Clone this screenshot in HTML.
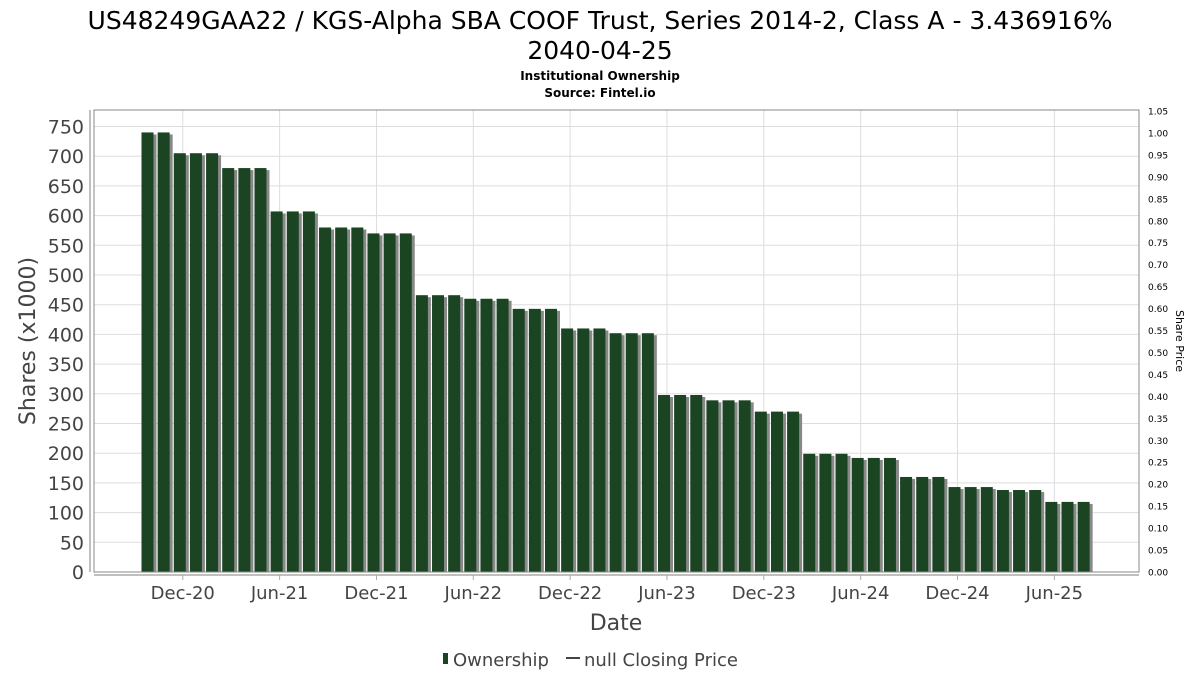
<!DOCTYPE html>
<html><head><meta charset="utf-8"><style>
body{margin:0;background:#fff;font-family:"DejaVu Sans","Liberation Sans",sans-serif;}
</style></head><body>
<svg id="chart" width="1200" height="675" xmlns="http://www.w3.org/2000/svg" font-family="DejaVu Sans, Liberation Sans, sans-serif">
<text x="600" y="29" text-anchor="middle" font-size="25" fill="#000">US48249GAA22 / KGS-Alpha SBA COOF Trust, Series 2014-2, Class A - 3.436916%</text>
<text x="600" y="59" text-anchor="middle" font-size="25" fill="#000">2040-04-25</text>
<text x="600" y="80" text-anchor="middle" font-size="12" font-weight="bold" fill="#000">Institutional Ownership</text>
<text x="600" y="97" text-anchor="middle" font-size="12" font-weight="bold" fill="#000">Source: Fintel.io</text>
<g id="grid"></g>
<g id="bars"></g>
<g id="axes"></g>
<text transform="translate(35,341) rotate(-90)" text-anchor="middle" font-size="22" fill="#444">Shares (x1000)</text>
<text transform="translate(1176,341) rotate(90)" text-anchor="middle" font-size="11" fill="#000">Share Price</text>
<text x="616" y="630" text-anchor="middle" font-size="22" fill="#444">Date</text>
<g>
<rect x="443" y="653" width="5" height="11" fill="#1a4422"/>
<text x="453" y="666" font-size="18" fill="#444">Ownership</text>
<line x1="566" y1="658" x2="580" y2="658" stroke="#444" stroke-width="2"/>
<text x="584" y="666" font-size="18" fill="#444">null Closing Price</text>
</g>
</svg>
<script>
const months=["Oct-20","Nov-20","Dec-20","Jan-21","Feb-21","Mar-21","Apr-21","May-21","Jun-21","Jul-21","Aug-21","Sep-21","Oct-21","Nov-21","Dec-21","Jan-22","Feb-22","Mar-22","Apr-22","May-22","Jun-22","Jul-22","Aug-22","Sep-22","Oct-22","Nov-22","Dec-22","Jan-23","Feb-23","Mar-23","Apr-23","May-23","Jun-23","Jul-23","Aug-23","Sep-23","Oct-23","Nov-23","Dec-23","Jan-24","Feb-24","Mar-24","Apr-24","May-24","Jun-24","Jul-24","Aug-24","Sep-24","Oct-24","Nov-24","Dec-24","Jan-25","Feb-25","Mar-25","Apr-25","May-25","Jun-25","Jul-25","Aug-25"];
const ownership=[740,740,705,705,705,680,680,680,607,607,607,580,580,580,570,570,570,466,466,466,460,460,460,443,443,443,410,410,410,402,402,402,298,298,298,289,289,289,270,270,270,199,199,199,192,192,192,160,160,160,143,143,143,138,138,138,118,118,118];
const xTickLabels=["Dec-20","Jun-21","Dec-21","Jun-22","Dec-22","Jun-23","Dec-23","Jun-24","Dec-24","Jun-25"];
const yTicks=[0,50,100,150,200,250,300,350,400,450,500,550,600,650,700,750];
const y2Ticks=[0,0.05,0.1,0.15,0.2,0.25,0.3,0.35,0.4,0.45,0.5,0.55,0.6,0.65,0.7,0.75,0.8,0.85,0.9,0.95,1.0,1.05];
const NS="http://www.w3.org/2000/svg";
const L=94,R=1139,T=110,B=572;
const y=v=>B-v*(445.5/750);
const y2=v=>B-v*(461/1.05);
const x=i=>150.5+i*16.14;
function mk(tag,attrs,parent){const e=document.createElementNS(NS,tag);for(const k in attrs)e.setAttribute(k,attrs[k]);document.getElementById(parent).appendChild(e);return e;}
// grid
yTicks.forEach(v=>{const l=mk('line',{x1:L,x2:R,y1:y(v),y2:y(v),stroke:'#ddd','stroke-width':1},'grid');

});
xTickLabels.forEach(lab=>{const i=months.indexOf(lab);const l=mk('line',{x1:x(i),x2:x(i),y1:T,y2:B,stroke:'#ddd','stroke-width':1},'grid');

});
// bars
ownership.forEach((v,i)=>{
const s=mk('rect',{x:x(i)-6,y:y(v)+2,width:12,height:B-y(v)-2,fill:'#888'},'bars');


const b=mk('rect',{x:x(i)-9,y:y(v),width:12,height:B-y(v),fill:'#1a4422'},'bars');

});
// frame
const f=mk('rect',{x:L,y:T,width:R-L,height:B-T,fill:'none',stroke:'#888','stroke-width':1},'axes');


const xa=mk('line',{x1:L,x2:R,y1:B+3,y2:B+3,stroke:'#aaa','stroke-width':1.5},'axes');


const ya=mk('line',{x1:L-4,x2:L-4,y1:T,y2:B,stroke:'#aaa','stroke-width':1.5},'axes');


yTicks.forEach(v=>{const t=mk('text',{x:L-10,y:y(v)+7,'text-anchor':'end','font-size':19,fill:'#444'},'axes');t.textContent=v;

});
y2Ticks.forEach(v=>{const t=mk('text',{x:R+9,y:y2(v)+3.5,'font-size':9,fill:'#000'},'axes');t.textContent=v.toFixed(2);

});
xTickLabels.forEach(lab=>{const i=months.indexOf(lab);
const tk=mk('line',{x1:x(i),x2:x(i),y1:B+3,y2:B+8,stroke:'#aaa'},'axes');


const t=mk('text',{x:x(i),y:599,'text-anchor':'middle','font-size':18,fill:'#444'},'axes');t.textContent=lab;

});
</script>
</body></html>
